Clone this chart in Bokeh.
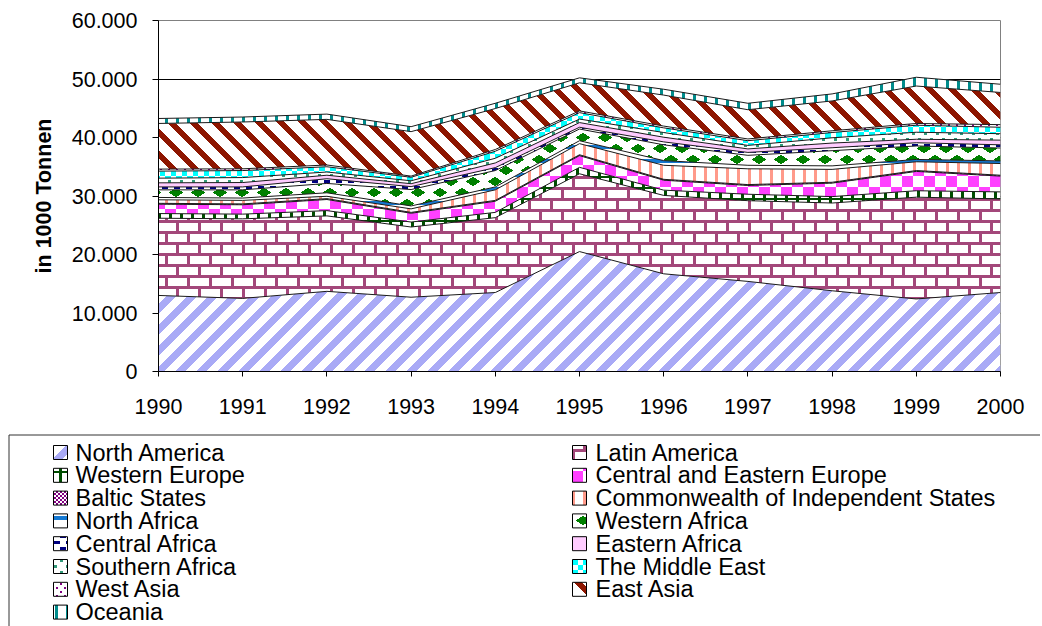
import base64
from bokeh.plotting import figure
from bokeh.models import ColumnDataSource, Range1d, FixedTicker, ImageURLTexture
from bokeh.transform import stack
from bokeh.core.properties import value
from bokeh.embed import file_html
from bokeh.resources import INLINE

# ---------------- data (in 1000 Tonnen) ----------------
years = [1990, 1991, 1992, 1993, 1994, 1995, 1996, 1997, 1998, 1999, 2000]
north_america = [13000, 12500, 13700, 12700, 13500, 20500, 16700, 15400, 13800, 12400, 13500]
latin_america = [13200, 13600, 12900, 12000, 12800, 13300, 13400, 13800, 15000, 17400, 16000]
western_europe = [800, 800, 900, 850, 900, 1100, 900, 1100, 1100, 1100, 1200]
central_eastern_europe = [1600, 1600, 1900, 1500, 1900, 2000, 1700, 1500, 2300, 3300, 2700]
baltic_states = [150, 150, 150, 150, 150, 150, 150, 150, 150, 150, 150]
cis = [600, 600, 400, 600, 1800, 1900, 2400, 2700, 2200, 1500, 2000]
north_africa = [400, 400, 600, 500, 500, 500, 800, 600, 600, 400, 450]
western_africa = [1300, 1400, 1600, 2800, 2800, 2000, 2700, 1700, 2600, 2300, 2200]
central_africa = [500, 500, 800, 500, 500, 300, 500, 500, 500, 550, 550]
eastern_africa = [700, 750, 600, 500, 800, 800, 800, 600, 800, 600, 800]
southern_africa = [800, 850, 550, 500, 800, 600, 800, 600, 900, 1200, 1100]
middle_east = [1200, 1200, 900, 600, 1200, 1100, 800, 800, 900, 1200, 1100]
west_asia = [350, 300, 300, 200, 300, 300, 300, 300, 300, 300, 450]
east_asia = [7800, 8000, 7800, 7600, 7000, 4800, 5300, 5000, 5100, 6400, 5500]
oceania = [850, 850, 900, 850, 900, 850, 1000, 1100, 1200, 1500, 1400]

series_names = ["North America", "Latin America", "Western Europe",
                "Central and Eastern Europe", "Baltic States",
                "Commonwealth of Independent States", "North Africa",
                "Western Africa", "Central Africa", "Eastern Africa",
                "Southern Africa", "The Middle East", "West Asia", "East Asia",
                "Oceania"]
series_values = [north_america, latin_america, western_europe,
                 central_eastern_europe, baltic_states, cis, north_africa,
                 western_africa, central_africa, eastern_africa,
                 southern_africa, middle_east, west_asia, east_asia, oceania]

y_ticks = [0, 10000, 20000, 30000, 40000, 50000, 60000]
y_tick_labels = ["0", "10.000", "20.000", "30.000", "40.000", "50.000", "60.000"]
y_axis_title = "in 1000 Tonnen"

# ---------------- fill patterns (small SVG tiles) ----------------
def tile(w, h, body):
    svg = ('<svg xmlns="http://www.w3.org/2000/svg" width="%s" height="%s" '
           'shape-rendering="crispEdges">%s</svg>' % (w, h, body))
    return ImageURLTexture(url="data:image/svg+xml;base64," +
                           base64.b64encode(svg.encode()).decode(),
                           repetition="repeat")

def rects(col, items):
    return "".join('<rect x="%s" y="%s" width="%s" height="%s" fill="%s"/>'
                   % (x, y, w, h, col) for x, y, w, h in items)

def stripes(col, s, w, up=True):
    out = ""
    for k in (-1, 0, 1):
        o = k * s
        if up:
            pts = [(o, s), (o + w, s), (o + s + w, 0), (o + s, 0)]
        else:
            pts = [(o, 0), (o + w, 0), (o + s + w, s), (o + s, s)]
        out += '<polygon points="%s" fill="%s"/>' % (
            " ".join("%s,%s" % pt for pt in pts), col)
    return out

def diamonds(col, s):
    out = ""
    for cx, cy in ((s / 2, s / 4), (0, 3 * s / 4), (s, 3 * s / 4)):
        pts = [(cx, cy - 5), (cx + 7, cy), (cx, cy + 5), (cx - 7, cy)]
        out += '<polygon points="%s" fill="%s"/>' % (
            " ".join("%s,%s" % pt for pt in pts), col)
    return out

textures = {
    "na": tile(21, 21, stripes("#A9AAF6", 21, 10, up=True)),
    "latin": tile(22, 22, rects("#A3477A", [(0, 0, 22, 3), (0, 11, 22, 3),
                                            (0, 0, 3, 11), (11, 11, 3, 11)])),
    "we": tile(11, 11, rects("#004D00", [(0, 0, 11, 2), (4, 0, 3, 11)])),
    "cee": tile(22, 22, rects("#FF40FF", [(0, 0, 11, 11), (11, 11, 11, 11)])),
    "baltic": tile(4, 4, rects("#800080", [(0, 0, 2, 2), (2, 2, 2, 2)])),
    "cis": tile(11, 11, rects("#FF9A8A", [(0, 0, 3, 11)])),
    "nafr": tile(14, 14, rects("#1478D2", [(0, 5, 14, 4)])),
    "wafr": tile(22, 22, diamonds("#008000", 22)),
    "cafr": tile(12, 12, rects("#000080", [(0, 0, 6, 3), (6, 6, 6, 3)])),
    "safr": tile(12, 12, rects("#339A7A", [(0, 0, 3, 3), (6, 6, 3, 3)])),
    "me": tile(11, 11, rects("#00FFFF", [(0, 0, 5.5, 5.5), (5.5, 5.5, 5.5, 5.5)])),
    "wasia": tile(8, 8, rects("#800080", [(0, 0, 2, 2), (4, 4, 2, 2)])),
    "easia": tile(22, 22, stripes("#8E1600", 22, 8, up=False)),
    "oce": tile(11, 11, rects("#008C8C", [(0, 0, 3, 11)])),
}
layer_pattern = ["na", "latin", "we", "cee", "baltic", "cis", "nafr", "wafr",
                 "cafr", None, "safr", "me", "wasia", "easia", "oce"]
layer_bg = ["white"] * 9 + ["#FFCCFF"] + ["white"] * 5


def fill_kw(i):
    if layer_pattern[i] is None:
        return dict(fill_color=layer_bg[i])
    return dict(fill_color=layer_bg[i], hatch_pattern=value(layer_pattern[i]),
                hatch_extra=textures)


FONT = "Liberation Sans"
W = 1040
MAIN_H = 427
FL, FR, FT, FB = 158, 40, 20, 56

# ---------------- main chart ----------------
keys = ["s%d" % i for i in range(len(series_values))]
data = {"year": years}
for k, v in zip(keys, series_values):
    data[k] = v
src = ColumnDataSource(data)

p = figure(width=W, height=MAIN_H, x_range=Range1d(years[0], years[-1]),
           y_range=Range1d(y_ticks[0], y_ticks[-1]),
           output_backend="svg", toolbar_location=None,
           min_border_left=FL, min_border_right=FR, min_border_top=FT,
           min_border_bottom=FB)
p.background_fill_color = "white"
p.border_fill_color = "white"
p.outline_line_color = "#808080"

for i, k in enumerate(keys):
    y1 = stack(*keys[:i]) if i > 0 else 0
    y2 = stack(*keys[:i + 1])
    p.varea(x="year", y1=y1, y2=y2, source=src, **fill_kw(i))
for i, k in enumerate(keys):
    p.line(x="year", y=stack(*keys[:i + 1]), source=src,
           line_color="#1a1a1a", line_width=1)

p.xgrid.visible = False
p.ygrid.grid_line_color = "black"

p.yaxis.ticker = FixedTicker(ticks=y_ticks)
p.yaxis.major_label_overrides = {t: l for t, l in zip(y_ticks, y_tick_labels)}
p.xaxis.ticker = FixedTicker(ticks=years)
p.xaxis.major_label_overrides = {y: str(y) for y in years}

for ax in (p.xaxis[0], p.yaxis[0]):
    ax.axis_line_color = "black"
    ax.major_tick_line_color = "black"
    ax.minor_tick_line_color = None
    ax.major_tick_in = 0
    ax.major_label_text_font = FONT
    ax.major_label_text_font_size = "21.5px"
    ax.major_label_text_color = "black"
p.xaxis.major_tick_out = 5
p.yaxis.major_tick_out = 6
p.xaxis.major_label_standoff = 22
p.yaxis.major_label_standoff = 15

p.yaxis.axis_label = y_axis_title
p.yaxis.axis_label_text_font = FONT
p.yaxis.axis_label_text_font_size = "21.5px"
p.yaxis.axis_label_text_font_style = "bold"
p.yaxis.axis_label_text_color = "black"
p.yaxis.axis_label_standoff = 13

# ---------------- legend (separate root placed below the chart) ----------------
LH = 199
lg = figure(width=W, height=LH, x_range=Range1d(0, W), y_range=Range1d(LH, 0),
            output_backend="svg", toolbar_location=None, min_border=0,
            min_border_left=0, min_border_right=0, min_border_top=0,
            min_border_bottom=0, x_axis_type=None, y_axis_type=None)
lg.outline_line_color = None
lg.grid.visible = False
lg.background_fill_color = "white"
lg.border_fill_color = "white"

box_left, box_top = 8.5, 7.5
lg.segment(x0=[box_left, box_left], y0=[box_top, box_top],
           x1=[W, box_left], y1=[box_top, LH],
           line_color="#333333", line_width=1)

col_icon_x = [60, 579]
col_text_x = [75, 595]
row0, row_h = 25, 22.8
tx, ty = [], []
for j, name in enumerate(series_names):
    r, c = divmod(j, 2)
    cy = row0 + r * row_h
    lg.rect(x=col_icon_x[c], y=cy, width=14, height=14,
            line_color="black", line_width=1, **fill_kw(j))
    tx.append(col_text_x[c])
    ty.append(cy)
lg.text(x=tx, y=ty, text=series_names, text_font=value(FONT),
        text_font_size="23.5px", text_baseline="middle", text_align="left",
        text_color="black")

open("out.html", "w").write(file_html([p, lg], INLINE))
